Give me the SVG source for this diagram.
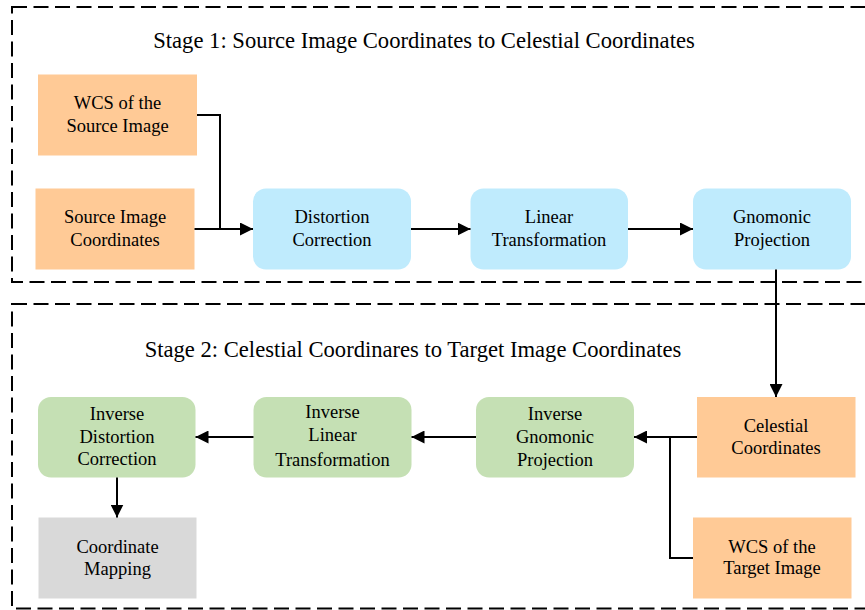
<svg xmlns="http://www.w3.org/2000/svg" width="865" height="610" viewBox="0 0 865 610">
  <style>
    .stage { fill: none; stroke: #000; stroke-width: 2; stroke-dasharray: 15 6.5; }
    text { font-family: 'Liberation Serif', 'Times New Roman', Times, 'DejaVu Serif', serif; fill: #000; text-anchor: middle; }
    .title { font-size: 22.6px; }
    .label { font-size: 18.5px; }
    .data { fill: #FFCA96; }
    .fwd { fill: #BFEBFD; }
    .inv { fill: #C5E0B4; }
    .out { fill: #D9D9D9; }
    .wire { fill: none; stroke: #000; stroke-width: 2; }
  </style>
  <defs>
    <marker id="arrow" markerUnits="userSpaceOnUse" markerWidth="13" markerHeight="13" refX="13" refY="6.5" orient="auto">
      <path d="M0,0 L13,6.5 L0,13 Z" fill="#000"/>
    </marker>
  </defs>

  <rect width="865" height="610" fill="#fff"/>

  <!-- stage frames -->
  <g id="stage1">
    <rect class="stage" x="12" y="7" width="900" height="275"/>
    <text class="title" x="424" y="48" font-family="Liberation Serif, serif">Stage 1: Source Image Coordinates to Celestial Coordinates</text>
  </g>
  <g id="stage2">
    <rect class="stage" x="12" y="304" width="900" height="304.5"/>
    <text class="title" x="413" y="357">Stage 2: Celestial Coordinares to Target Image Coordinates</text>
  </g>

  <!-- stage 1 nodes -->
  <g id="wcs-source">
    <rect class="data" x="38" y="74.5" width="159" height="81"/>
    <text class="label" x="117.5" y="109">WCS of the</text>
    <text class="label" x="117.5" y="132">Source Image</text>
  </g>
  <g id="source-coords">
    <rect class="data" x="35.5" y="188.5" width="159" height="81"/>
    <text class="label" x="115" y="223">Source Image</text>
    <text class="label" x="115" y="245.5">Coordinates</text>
  </g>
  <g id="distortion">
    <rect class="fwd" x="253" y="188.5" width="158" height="81" rx="13"/>
    <text class="label" x="332" y="223">Distortion</text>
    <text class="label" x="332" y="245.5">Correction</text>
  </g>
  <g id="linear">
    <rect class="fwd" x="470.5" y="188.5" width="157.5" height="81" rx="13"/>
    <text class="label" x="549" y="223">Linear</text>
    <text class="label" x="549" y="245.5">Transformation</text>
  </g>
  <g id="gnomonic">
    <rect class="fwd" x="693" y="188.5" width="158" height="81" rx="13"/>
    <text class="label" x="772" y="223">Gnomonic</text>
    <text class="label" x="772" y="245.5">Projection</text>
  </g>

  <!-- stage 2 nodes -->
  <g id="celestial">
    <rect class="data" x="697" y="397" width="158.5" height="80.5"/>
    <text class="label" x="776" y="431.5">Celestial</text>
    <text class="label" x="776" y="453.5">Coordinates</text>
  </g>
  <g id="wcs-target">
    <rect class="data" x="693" y="517.5" width="158.5" height="81"/>
    <text class="label" x="772" y="552.5">WCS of the</text>
    <text class="label" x="772" y="574">Target Image</text>
  </g>
  <g id="inv-gnomonic">
    <rect class="inv" x="476" y="397" width="158" height="80.5" rx="13"/>
    <text class="label" x="555" y="420">Inverse</text>
    <text class="label" x="555" y="443">Gnomonic</text>
    <text class="label" x="555" y="466">Projection</text>
  </g>
  <g id="inv-linear">
    <rect class="inv" x="253.5" y="397" width="158" height="80.5" rx="13"/>
    <text class="label" x="332.5" y="418">Inverse</text>
    <text class="label" x="332.5" y="441">Linear</text>
    <text class="label" x="332.5" y="466">Transformation</text>
  </g>
  <g id="inv-distortion">
    <rect class="inv" x="38" y="397" width="157.5" height="80.5" rx="13"/>
    <text class="label" x="117" y="420">Inverse</text>
    <text class="label" x="117" y="442.5">Distortion</text>
    <text class="label" x="117" y="465">Correction</text>
  </g>
  <g id="mapping">
    <rect class="out" x="38.5" y="517.5" width="158" height="81"/>
    <text class="label" x="117.5" y="552.5">Coordinate</text>
    <text class="label" x="117.5" y="575">Mapping</text>
  </g>

  <!-- connectors -->
  <g id="connectors">
    <path class="wire" d="M197,115 H220 V229"/>
    <path class="wire" d="M194.5,229 H253" marker-end="url(#arrow)"/>
    <path class="wire" d="M411,229 H470.5" marker-end="url(#arrow)"/>
    <path class="wire" d="M628,229 H693" marker-end="url(#arrow)"/>
    <path class="wire" d="M776,269.5 V397" marker-end="url(#arrow)"/>
    <path class="wire" d="M697,437 H634" marker-end="url(#arrow)"/>
    <path class="wire" d="M693,558 H670 V437"/>
    <path class="wire" d="M476,437 H411.5" marker-end="url(#arrow)"/>
    <path class="wire" d="M253.5,437 H195.5" marker-end="url(#arrow)"/>
    <path class="wire" d="M117,477.5 V517.5" marker-end="url(#arrow)"/>
  </g>
</svg>
